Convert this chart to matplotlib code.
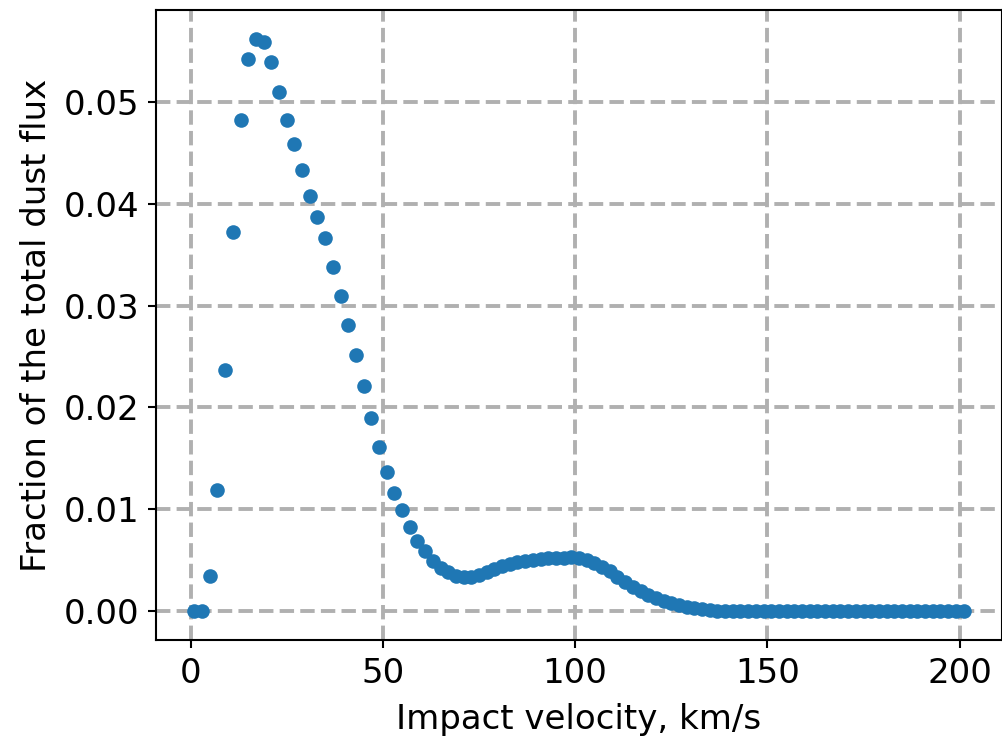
import matplotlib
matplotlib.use("Agg")
import matplotlib.pyplot as plt
import numpy as np

velocity = list(range(1, 202, 2))
fraction = [
    0.0000, 0.0000, 0.0035, 0.0119, 0.0237, 0.0372, 0.0482, 0.0542, 0.0562, 0.0559,
    0.0539, 0.0510, 0.0482, 0.0459, 0.0433, 0.0408, 0.0387, 0.0366, 0.0338, 0.0309,
    0.0281, 0.0251, 0.0221, 0.0190, 0.0161, 0.0137, 0.0116, 0.0099, 0.0083, 0.0069,
    0.0059, 0.0049, 0.0042, 0.0038, 0.0035, 0.0034, 0.0034, 0.0036, 0.0038, 0.0041,
    0.0044, 0.0046, 0.0048, 0.0049, 0.0050, 0.0051, 0.0052, 0.0052, 0.0052, 0.0053,
    0.0052, 0.0050, 0.0047, 0.0043, 0.0039, 0.0034, 0.0029, 0.0024, 0.0020, 0.0016,
    0.0013, 0.0010, 0.0008, 0.0006, 0.0004, 0.0003, 0.0002, 0.0001, 0.00006, 0.00004,
    0.00003, 0.00002, 0.00001, 0.00001, 0.0, 0.0, 0.0, 0.0, 0.0, 0.0,
    0.0, 0.0, 0.0, 0.0, 0.0, 0.0, 0.0, 0.0, 0.0, 0.0,
    0.0, 0.0, 0.0, 0.0, 0.0, 0.0, 0.0, 0.0, 0.0, 0.0,
    0.0,
]
xticks = [0, 50, 100, 150, 200]
yticks = [0.00, 0.01, 0.02, 0.03, 0.04, 0.05]

fig = plt.figure(figsize=(10.03, 7.44), dpi=100)
ax = fig.add_axes([0.1555, 0.140, 0.8435, 0.8466])
ax.plot(velocity, fraction, 'o', color='#1f77b4', markersize=10.5, markeredgewidth=0)
ax.grid(True, linestyle='--', color='#b0b0b0', linewidth=2.8)
ax.set_axisbelow(True)
ax.set_xticks(xticks)
ax.set_yticks(yticks)
ax.set_yticklabels([f"{v:.2f}" for v in yticks])
ax.tick_params(labelsize=24.5, length=5.5, width=1.5, pad=6.5)
for s in ax.spines.values():
    s.set_linewidth(1.5)
ax.set_xlabel("Impact velocity, km/s", fontsize=24.5, labelpad=10)
ax.set_ylabel("Fraction of the total dust flux", fontsize=24.5, labelpad=8)
fig.savefig("out.png", dpi=100)
